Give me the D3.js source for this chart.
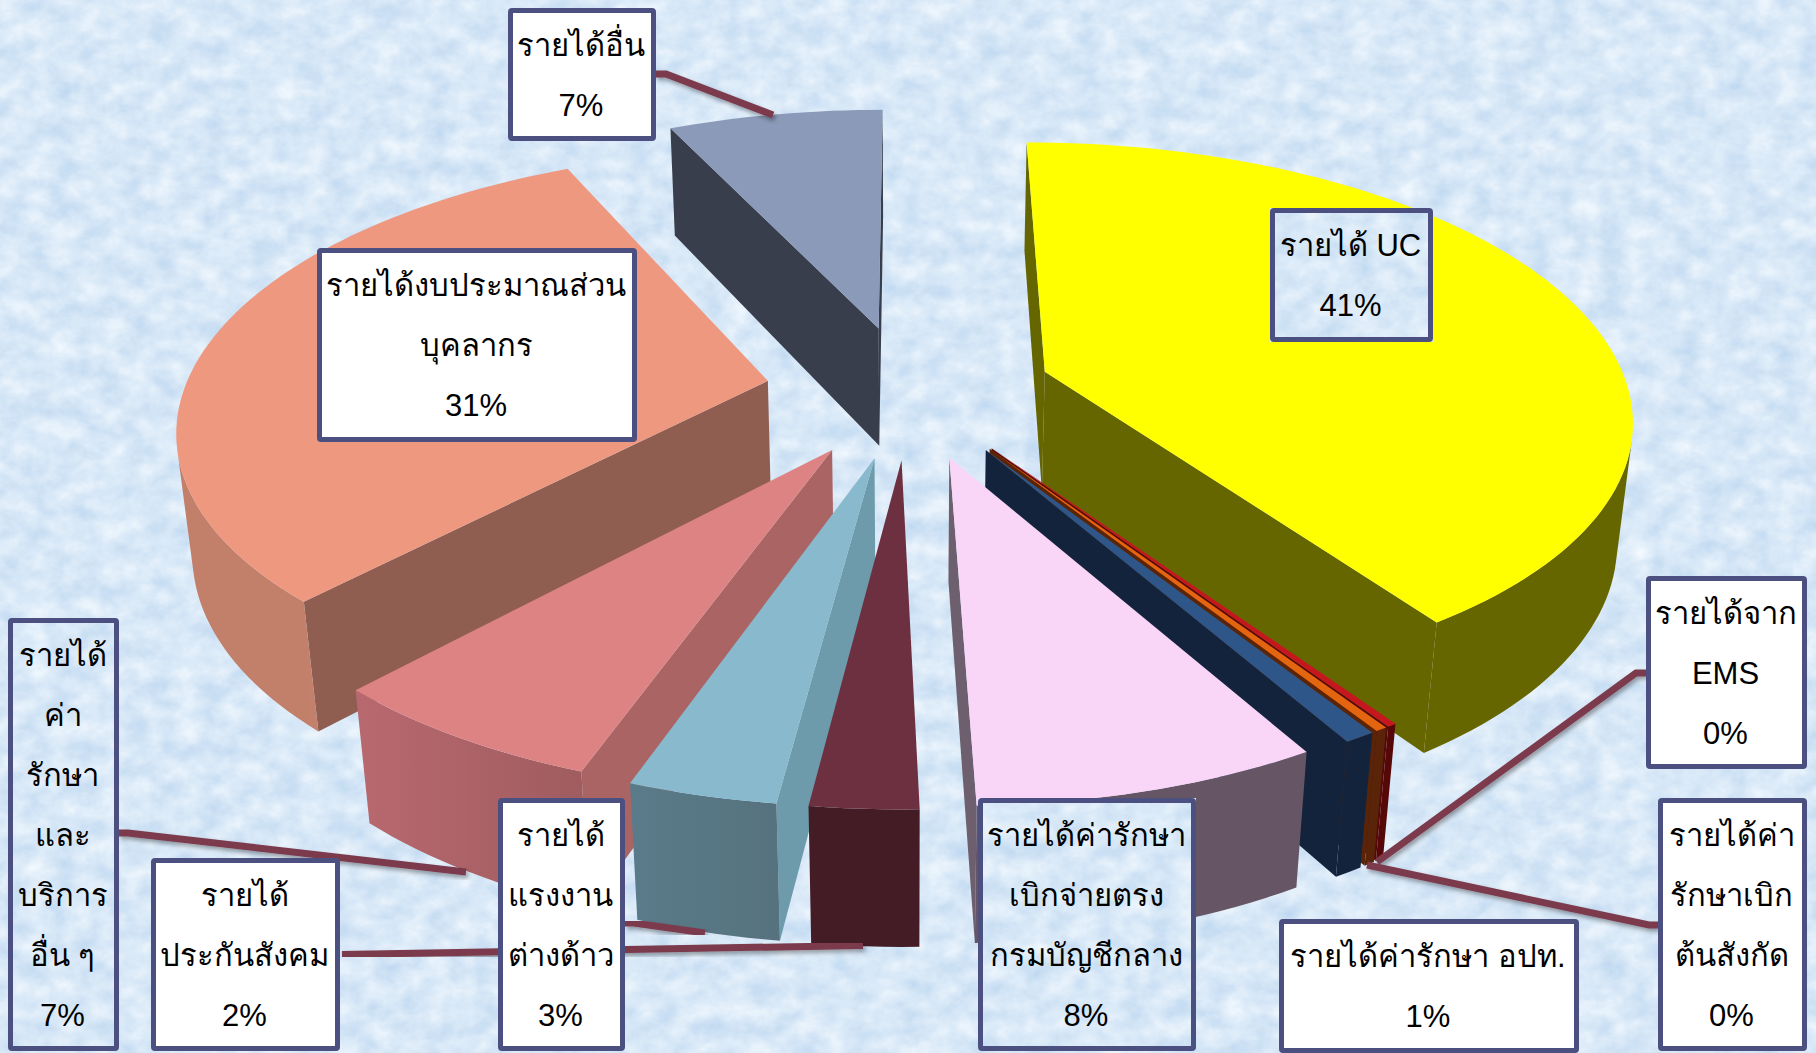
<!DOCTYPE html>
<html lang="th">
<head>
<meta charset="utf-8">
<title>สัดส่วนรายได้</title>
<script src="https://cdn.jsdelivr.net/npm/d3@7/dist/d3.min.js"></script>
<style>
  html, body { margin: 0; padding: 0; background: #dbe9f7; overflow: hidden; }
  svg { display: block; }
  text { font-family: "Liberation Sans", "Noto Sans", "DejaVu Sans", sans-serif; font-size: 31px; fill: #000; }
</style>
</head>
<body>
<svg id="chart" width="1816" height="1053"></svg>
<script>
// Income sources, clockwise from twelve o'clock, as percentages of the total
const categories = [
  "รายได้ UC", "รายได้จาก EMS", "รายได้ค่ารักษาเบิกต้นสังกัด", "รายได้ค่ารักษา อปท.",
  "รายได้ค่ารักษาเบิกจ่ายตรงกรมบัญชีกลาง", "รายได้ประกันสังคม", "รายได้แรงงานต่างด้าว",
  "รายได้ค่ารักษาและบริการอื่น ๆ", "รายได้งบประมาณส่วนบุคลากร", "รายได้อื่น"
];
const values = [40.5, 0.22, 0.28, 0.72, 7.85, 2.45, 3.38, 6.52, 31.05, 7.03];

// Wrapped label text, one inner array per category
const labelLines = [
  ["รายได้ UC"], ["รายได้จาก", "EMS"], ["รายได้ค่า", "รักษาเบิก", "ต้นสังกัด"], ["รายได้ค่ารักษา อปท."],
  ["รายได้ค่ารักษา", "เบิกจ่ายตรง", "กรมบัญชีกลาง"], ["รายได้", "ประกันสังคม"], ["รายได้", "แรงงาน", "ต่างด้าว"],
  ["รายได้", "ค่า", "รักษา", "และ", "บริการ", "อื่น ๆ"], ["รายได้งบประมาณส่วน", "บุคลากร"], ["รายได้อื่น"]
];

// Face colours of each wedge
const topColors    = ["#ffff00", "#c6171f", "#e4650f", "#2f5689", "#f9d5f7", "#6d3040", "#89b9cd", "#de8383", "#ef9880", "#8b9ab8"];
const radialColors = ["#666600", "#560808", "#5a2408", "#12233b", "#6d5f6d", "#431c25", "#6e9bab", "#ab6464", "#8f5e50", "#383e4b"];
const outerStart   = ["#666600", "#560808", "#5a2408", "#12233b", "#665565", "#431c25", "#56727e", "#a05c5f", "#c27f6a", "#383e4b"];
const outerEnd     = ["#666600", "#560808", "#5a2408", "#12233b", "#665565", "#431c25", "#5a7b8a", "#b8696f", "#e09a80", "#383e4b"];

// Label boxes: [left, top, right, bottom]; filled boxes show the paper texture
const boxFrames = [
  [1270, 208, 1433, 342], [1646, 576, 1807, 769], [1658, 798, 1807, 1051], [1279, 919, 1579, 1053],
  [978, 798, 1196, 1051], [151, 858, 340, 1051], [498, 798, 625, 1051],
  [8, 618, 119, 1051], [317, 248, 637, 442], [508, 8, 656, 141]
];
const boxOnPaper = [true, false, false, false, true, false, false, true, false, false];

// Leader polylines from each outside label towards its wedge
const leaders = [
  null,
  [[1646, 673], [1636, 673], [1377, 862]],
  [[1658, 925], [1649, 925], [1367, 865]],
  [[1346, 919], [1346, 873]],
  null,
  [[342, 954.5], [863, 945.5]],
  [[625, 923], [634, 923], [705, 933]],
  [[119, 833], [128, 833], [466, 872]],
  null,
  [[655, 74], [666, 74], [773, 115]]
];

// Perspective camera for the pie: ground plane (x, v) with unit radius, z = 0 top, z = 1 base
const camera = { x0: 909, y0: 391, a: 584, b: 270.6, k: 0.156, c: 123, m: 0.022 };
const explode = 0.246;

function project(x, v, z) {
  const w = 1 + camera.k * v + camera.m * z;
  return [camera.x0 + camera.a * x / w, camera.y0 + (-camera.b * v + camera.c * z) / w];
}

const svg = d3.select("#chart");
const defs = svg.append("defs");

// Mottled paper backdrop
const paper = defs.append("filter").attr("id", "paper")
  .attr("filterUnits", "userSpaceOnUse")
  .attr("color-interpolation-filters", "sRGB")
  .attr("x", 0).attr("y", 0).attr("width", 1816).attr("height", 1053);
paper.append("feTurbulence").attr("type", "fractalNoise")
  .attr("baseFrequency", "0.04 0.05").attr("numOctaves", 4).attr("seed", 11).attr("result", "n");
paper.append("feColorMatrix").attr("in", "n").attr("type", "matrix")
  .attr("values", "0.22 0 0 0 0.737  0.14 0 0 0 0.84  0.06 0 0 0 0.939  0 0 0 0 1");

defs.append("filter").attr("id", "leaderShadow")
  .attr("x", "-20%").attr("y", "-20%").attr("width", "140%").attr("height", "140%")
  .append("feDropShadow").attr("dx", 2).attr("dy", 3).attr("stdDeviation", 2)
  .attr("flood-color", "#000").attr("flood-opacity", 0.35);

const backdrop = defs.append("rect").attr("id", "backdrop")
  .attr("width", 1816).attr("height", 1053).attr("filter", "url(#paper)");
svg.append("use").attr("href", "#backdrop");

// Wedge angles from the shared pie layout
const arcs = d3.pie().sort(null).value(d => d)(values);
const line = d3.line();
const step = Math.PI / 120;

function wedgeGeometry(arc, i) {
  const mid = (arc.startAngle + arc.endAngle) / 2;
  const cx = explode * Math.sin(mid), cv = explode * Math.cos(mid);
  const n = Math.max(2, Math.ceil((arc.endAngle - arc.startAngle) / step));
  const rim = d3.range(n + 1).map(j => {
    const t = arc.startAngle + (arc.endAngle - arc.startAngle) * j / n;
    return [cx + Math.sin(t), cv + Math.cos(t)];
  });
  return { i, cx, cv, rim };
}

const topOf = p => project(p[0], p[1], 0);
const baseOf = p => project(p[0], p[1], 1);

// A wall faces the camera when its quad winds the same way as the rim seen from above
const facesCamera = (a, b) => d3.polygonArea([topOf(a), topOf(b), baseOf(b), baseOf(a)]) > 0;

function drawRadialWall(g, a, b, fill) {
  if (!facesCamera(a, b)) return;
  g.append("path")
    .attr("d", line([topOf(a), topOf(b), baseOf(b), baseOf(a)]) + "Z")
    .attr("fill", fill);
}

// The curved wall is one shape: the visible run of rim, shaded left to right
function drawOuterWall(g, w) {
  const visible = w.rim.filter((p, j) =>
    (j < w.rim.length - 1 && facesCamera(p, w.rim[j + 1])) || (j > 0 && facesCamera(w.rim[j - 1], p)));
  if (visible.length < 2) return;
  const outline = [...visible.map(topOf), ...visible.slice().reverse().map(baseOf)];
  const [x1, x2] = [topOf(w.rim[0])[0], topOf(w.rim[w.rim.length - 1])[0]];
  const id = "outer-" + w.i;
  const gradient = defs.append("linearGradient").attr("id", id)
    .attr("gradientUnits", "userSpaceOnUse")
    .attr("x1", x1).attr("x2", x2).attr("y1", 0).attr("y2", 0);
  gradient.append("stop").attr("offset", 0).attr("stop-color", outerStart[w.i]);
  gradient.append("stop").attr("offset", 1).attr("stop-color", outerEnd[w.i]);
  g.append("path").attr("d", line(outline) + "Z").attr("fill", `url(#${id})`);
}

// Paint the farthest wedges first so nearer walls overlap them
const wedges = arcs.map(wedgeGeometry).sort((p, q) => q.cv - p.cv);
const pieLayer = svg.append("g");

wedges.forEach(w => {
  const g = pieLayer.append("g");
  const apex = [w.cx, w.cv];
  drawRadialWall(g, apex, w.rim[0], radialColors[w.i]);
  drawRadialWall(g, w.rim[w.rim.length - 1], apex, radialColors[w.i]);
  drawOuterWall(g, w);
  g.append("path").attr("d", line([apex, ...w.rim].map(topOf)) + "Z")
    .attr("fill", topColors[w.i]);
});

// Leader lines run beneath the label boxes
svg.append("g").selectAll("path")
  .data(leaders.filter(Boolean))
  .join("path")
  .attr("d", d => line(d))
  .attr("fill", "none")
  .attr("stroke", "#7b3b4d")
  .attr("stroke-width", 7)
  .attr("stroke-linejoin", "miter")
  .attr("filter", "url(#leaderShadow)");

// Label boxes with the category name and its rounded percentage
const total = d3.sum(values);
const lineGap = 60;
const labels = svg.append("g");

categories.forEach((name, i) => {
  const [l, t, r, b] = boxFrames[i];
  const g = labels.append("g").attr("data-category", name);
  if (boxOnPaper[i]) {
    const clipId = "box-clip-" + i;
    defs.append("clipPath").attr("id", clipId)
      .append("rect").attr("x", l).attr("y", t).attr("width", r - l).attr("height", b - t);
    g.append("use").attr("href", "#backdrop").attr("clip-path", `url(#${clipId})`);
  }
  g.append("rect")
    .attr("x", l + 2.5).attr("y", t + 2.5)
    .attr("width", r - l - 5).attr("height", b - t - 5)
    .attr("rx", 1.5)
    .attr("fill", boxOnPaper[i] ? "none" : "#ffffff")
    .attr("stroke", "#4c5080")
    .attr("stroke-width", 5);
  const rows = [...labelLines[i], Math.round(values[i] / total * 100) + "%"];
  const cx = (l + r) / 2 - 1, cy = (t + b) / 2;
  g.selectAll("text").data(rows).join("text")
    .attr("x", cx)
    .attr("y", (d, j) => cy + (j - (rows.length - 1) / 2) * lineGap + 11)
    .attr("text-anchor", "middle")
    .text(d => d);
});
</script>
</body>
</html>
